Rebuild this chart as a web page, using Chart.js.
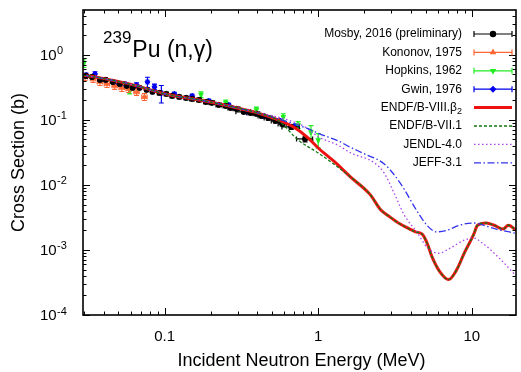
<!DOCTYPE html>
<html>
<head>
<meta charset="utf-8">
<script src="https://cdn.jsdelivr.net/npm/chart.js@4.4.0/dist/chart.umd.min.js"></script>
<style>
  html, body { margin: 0; padding: 0; background: #fff; }
</style>
</head>
<body>
<canvas id="xs" width="521" height="372"></canvas>
<script>
// neutron energy in MeV, cross section in barns
const xRange = [0.0294, 19.4];
const yRange = [1e-4, 4.9];
const xTickVals = [0.1, 1, 10];
const xTickText = ['0.1', '1', '10'];
const yTickExp = [0, -1, -2, -3, -4];

const seriesNames = ['Mosby, 2016 (preliminary)', 'Kononov, 1975', 'Hopkins, 1962', 'Gwin, 1976',
  'ENDF/B-VIII.β', 'ENDF/B-VII.1', 'JENDL-4.0', 'JEFF-3.1'];

// measurements (dE, dXS are relative half widths)
const mosbyE = [0.0308, 0.0337, 0.0379, 0.0414, 0.046, 0.051, 0.0566, 0.0619, 0.0687, 0.0762, 0.0833,
  0.0925, 0.1026, 0.112, 0.1245, 0.138, 0.151, 0.1675, 0.186, 0.203, 0.225, 0.25, 0.269, 0.294,
  0.327, 0.362, 0.396, 0.427, 0.473, 0.526, 0.583, 0.667, 0.821];
const mosbyXS = [0.475, 0.459, 0.413, 0.413, 0.384, 0.358, 0.334, 0.311, 0.311, 0.29, 0.27,
  0.26, 0.251, 0.234, 0.226, 0.218, 0.21, 0.203, 0.189, 0.183, 0.17, 0.164, 0.153, 0.148,
  0.133, 0.128, 0.124, 0.115, 0.107, 0.0966, 0.0868, 0.078, 0.051];
const mosbyDE = [0.02, 0.02, 0.02, 0.02, 0.02, 0.02, 0.02, 0.025, 0.025, 0.025, 0.025,
  0.03, 0.03, 0.03, 0.03, 0.03, 0.035, 0.035, 0.035, 0.04, 0.04, 0.04, 0.04, 0.05,
  0.11, 0.05, 0.05, 0.05, 0.06, 0.06, 0.06, 0.13, 0.12];
const mosbyDXS = [0.05, 0.05, 0.05, 0.05, 0.05, 0.05, 0.05, 0.05, 0.05, 0.05, 0.05,
  0.05, 0.05, 0.05, 0.05, 0.05, 0.05, 0.05, 0.05, 0.05, 0.05, 0.05, 0.06, 0.06,
  0.06, 0.06, 0.06, 0.06, 0.07, 0.07, 0.07, 0.08, 0.1];

const kononovE = [0.0303, 0.0342, 0.0379, 0.0421, 0.0473, 0.0526, 0.0583, 0.0656, 0.0739];
const kononovXS = [0.459, 0.428, 0.384, 0.358, 0.334, 0.311, 0.30, 0.27, 0.226];
const kononovDE = [0.04, 0.04, 0.04, 0.04, 0.04, 0.04, 0.04, 0.04, 0.04];
const kononovDXS = [0.12, 0.12, 0.12, 0.12, 0.12, 0.12, 0.12, 0.12, 0.12];

const hopkinsE = [0.0298, 0.0592, 0.1725, 0.25, 0.396, 0.592, 0.74, 0.897, 1.0];
const hopkinsXS = [0.753, 0.279, 0.245, 0.183, 0.1425, 0.111, 0.0838, 0.0654, 0.0492];
const hopkinsDE = [0.01, 0.01, 0.01, 0.01, 0.01, 0.01, 0.01, 0.01, 0.01];
const hopkinsDXS = [0.15, 0.1, 0.1, 0.1, 0.1, 0.12, 0.12, 0.25, 0.25];

const gwinE = [0.0308, 0.0352, 0.0408, 0.0473, 0.055, 0.0656, 0.0773, 0.0859, 0.0952, 0.1155,
  0.151, 0.194, 0.261, 0.342, 0.44, 0.566, 0.707];
const gwinXS = [0.492, 0.51, 0.413, 0.371, 0.358, 0.345, 0.384, 0.322, 0.26, 0.251,
  0.234, 0.196, 0.17, 0.133, 0.115, 0.0966, 0.0809];
const gwinDE = [0.02, 0.02, 0.02, 0.02, 0.02, 0.02, 0.02, 0.02, 0.02, 0.02,
  0.02, 0.02, 0.02, 0.02, 0.02, 0.02, 0.02];
const gwinDXS = [0.06, 0.08, 0.06, 0.06, 0.06, 0.08, 0.18, 0.1, 0.3, 0.06,
  0.06, 0.06, 0.06, 0.06, 0.06, 0.06, 0.06];

// evaluations
const endf8E = [0.0294, 0.038, 0.059, 0.107, 0.167, 0.262, 0.379, 0.549, 0.707, 0.858, 1.0, 1.28,
  1.62, 2.18, 2.54, 2.94, 3.42, 3.79, 4.3, 4.75, 5.1, 5.5, 6.2, 7.06, 7.95, 8.96, 10.25,
  10.9, 12.4, 14.0, 16.0, 17.3, 19.5];
const endf8XS = [0.49, 0.443, 0.358, 0.243, 0.203, 0.164, 0.133, 0.100, 0.075, 0.053, 0.037, 0.0226,
  0.0133, 0.0071, 0.0042, 0.0032, 0.0025, 0.0022, 0.0019, 0.00175, 0.0013, 0.00079, 0.00046, 0.00035,
  0.00049, 0.00091, 0.0017, 0.0024, 0.0026, 0.0024, 0.0021, 0.0024, 0.002];

const endf7E = [0.0294, 0.038, 0.059, 0.107, 0.167, 0.262, 0.379, 0.549, 0.74, 1.0, 1.34,
  1.62, 2.18, 2.54, 2.94, 3.42, 3.79, 4.3, 4.75, 5.1, 5.5, 6.2, 7.06, 7.95, 8.96, 10.25,
  10.9, 12.4, 14.0, 16.0, 17.3, 19.5];
const endf7XS = [0.49, 0.443, 0.358, 0.243, 0.203, 0.164, 0.133, 0.098, 0.049, 0.031, 0.0189,
  0.0133, 0.0071, 0.0042, 0.0032, 0.0025, 0.0022, 0.0019, 0.00175, 0.0013, 0.00079, 0.00046, 0.00035,
  0.00049, 0.00091, 0.0017, 0.0024, 0.0026, 0.0024, 0.0021, 0.0024, 0.002];

const jendlE = [0.0294, 0.038, 0.059, 0.107, 0.167, 0.262, 0.379, 0.575, 0.82, 1.0, 1.34, 1.63,
  2.32, 2.69, 3.12, 3.62, 4.39, 5.1, 6.09, 7.18, 8.96, 10.25, 11.9, 15.1, 19.4];
const jendlXS = [0.49, 0.443, 0.358, 0.243, 0.203, 0.164, 0.133, 0.107, 0.078, 0.055, 0.041, 0.031,
  0.0219, 0.0152, 0.0075, 0.0035, 0.00188, 0.00111, 0.00089, 0.00106, 0.00142, 0.00153, 0.00124,
  0.00075, 0.0004];

const jeffE = [0.0294, 0.038, 0.059, 0.107, 0.167, 0.262, 0.379, 0.575, 0.9, 1.0, 1.34, 1.62,
  2.0, 2.69, 3.42, 4.39, 5.1, 5.9, 6.85, 8.3, 10.25, 11.9, 14.4, 19.4];
const jeffXS = [0.49, 0.443, 0.358, 0.243, 0.203, 0.164, 0.133, 0.1, 0.07, 0.062, 0.048, 0.038,
  0.030, 0.021, 0.0107, 0.004, 0.0024, 0.0019, 0.002, 0.0024, 0.0026, 0.0024, 0.0021, 0.0018];

const FONT = '"Liberation Sans", Arial, Helvetica, sans-serif';

function pts(xs, ys) {
  return xs.map((x, i) => ({ x: x, y: ys[i] }));
}

function measured(label, xs, ys, dx, dy, color, style, rot) {
  return {
    label: label, data: pts(xs, ys), errX: dx, errY: dy,
    showLine: false, order: 10,
    borderColor: color, backgroundColor: color,
    pointStyle: style, pointRotation: rot || 0, pointRadius: 2.6, pointBorderWidth: 1
  };
}

function evaluated(label, xs, ys, color, width, dash, order) {
  return {
    label: label, data: pts(xs, ys), order: order,
    borderColor: color, borderWidth: width, borderDash: dash,
    pointRadius: 0, cubicInterpolationMode: 'monotone', fill: false
  };
}

// error bars drawn just before each measured series
const errorBars = {
  id: 'errorBars',
  beforeDatasetDraw(chart, args) {
    const ds = chart.data.datasets[args.index];
    if (!ds.errY) return;
    const xs = chart.scales.x, ys = chart.scales.y, a = chart.chartArea;
    const ctx = chart.ctx;
    ctx.save();
    ctx.beginPath();
    ctx.rect(a.left, a.top, a.right - a.left, a.bottom - a.top);
    ctx.clip();
    ctx.strokeStyle = ds.borderColor;
    ctx.lineWidth = 1.2;
    ds.data.forEach((p, i) => {
      const px = xs.getPixelForValue(p.x), py = ys.getPixelForValue(p.y);
      const xl = xs.getPixelForValue(p.x * (1 - ds.errX[i]));
      const xr = xs.getPixelForValue(p.x * (1 + ds.errX[i]));
      const yt = ys.getPixelForValue(p.y * (1 + ds.errY[i]));
      const yb = ys.getPixelForValue(p.y * (1 - ds.errY[i]));
      ctx.beginPath();
      ctx.moveTo(xl, py); ctx.lineTo(xr, py);
      ctx.moveTo(xl, py - 2.5); ctx.lineTo(xl, py + 2.5);
      ctx.moveTo(xr, py - 2.5); ctx.lineTo(xr, py + 2.5);
      ctx.moveTo(px, yt); ctx.lineTo(px, yb);
      ctx.moveTo(px - 2.5, yt); ctx.lineTo(px + 2.5, yt);
      ctx.moveTo(px - 2.5, yb); ctx.lineTo(px + 2.5, yb);
      ctx.stroke();
    });
    ctx.restore();
  }
};

function logTicks(lo, hi) {
  const out = [];
  for (let d = Math.floor(Math.log10(lo)); d <= Math.ceil(Math.log10(hi)); d++) {
    for (let m = 1; m < 10; m++) {
      const v = m * Math.pow(10, d);
      if (v >= lo && v <= hi) out.push({ v: v, major: m === 1 });
    }
  }
  return out;
}

// frame, inward ticks, tick labels, axis titles, label and legend
const decorations = {
  id: 'decorations',
  afterDraw(chart) {
    const ctx = chart.ctx, a = chart.chartArea;
    const xs = chart.scales.x, ys = chart.scales.y;
    ctx.save();
    ctx.strokeStyle = '#000';
    ctx.lineWidth = 1;
    logTicks(xRange[0], xRange[1]).forEach(t => {
      const px = Math.round(xs.getPixelForValue(t.v)) + 0.5;
      const len = t.major ? 7 : 3.5;
      ctx.beginPath();
      ctx.moveTo(px, a.bottom); ctx.lineTo(px, a.bottom - len);
      ctx.moveTo(px, a.top); ctx.lineTo(px, a.top + len);
      ctx.stroke();
    });
    logTicks(yRange[0], yRange[1]).forEach(t => {
      const py = Math.round(ys.getPixelForValue(t.v)) + 0.5;
      const len = t.major ? 7 : 3.5;
      ctx.beginPath();
      ctx.moveTo(a.left, py); ctx.lineTo(a.left + len, py);
      ctx.moveTo(a.right, py); ctx.lineTo(a.right - len, py);
      ctx.stroke();
    });
    ctx.lineWidth = 1.6;
    ctx.strokeRect(a.left, a.top, a.right - a.left, a.bottom - a.top);

    ctx.fillStyle = '#000';
    ctx.font = '15px ' + FONT;
    ctx.textAlign = 'center';
    ctx.textBaseline = 'middle';
    xTickVals.forEach((v, i) => {
      ctx.fillText(xTickText[i], xs.getPixelForValue(v), 337);
    });
    yTickExp.forEach(e => {
      const py = ys.getPixelForValue(Math.pow(10, e));
      ctx.font = '15px ' + FONT;
      ctx.textAlign = 'left';
      ctx.textBaseline = 'middle';
      ctx.fillText('10', 40, py + 1);
      ctx.font = '11px ' + FONT;
      ctx.textBaseline = 'alphabetic';
      ctx.fillText(e === 0 ? '0' : '-' + (-e), 57, py - 0.5);
    });

    ctx.font = '18px ' + FONT;
    ctx.textAlign = 'center';
    ctx.textBaseline = 'middle';
    ctx.fillText('Incident Neutron Energy (MeV)', (a.left + a.right) / 2 + 2, 361);
    ctx.save();
    ctx.translate(19, (a.top + a.bottom) / 2);
    ctx.rotate(-Math.PI / 2);
    ctx.fillText('Cross Section (b)', 0, 0);
    ctx.restore();

    // reaction label
    ctx.textAlign = 'left';
    ctx.textBaseline = 'alphabetic';
    ctx.font = '17px ' + FONT;
    ctx.fillText('239', 103, 43);
    const w239 = ctx.measureText('239').width;
    ctx.font = '23px ' + FONT;
    ctx.fillText('Pu (n,γ)', 103 + w239 + 1, 57);

    drawLegend(chart);
    ctx.restore();
  }
};

function drawLegend(chart) {
  const ctx = chart.ctx;
  const x0 = 474, x1 = 512, xm = 493;
  seriesNames.forEach((name, i) => {
    const ds = chart.data.datasets[i];
    const y = 34 + i * 18.4;
    ctx.save();
    ctx.fillStyle = '#000';
    ctx.font = '12px ' + FONT;
    ctx.textAlign = 'right';
    ctx.textBaseline = 'middle';
    if (i === 4) {
      ctx.font = '9px ' + FONT;
      ctx.fillText('2', 462, y + 4);
      const w = ctx.measureText('2').width;
      ctx.font = '12px ' + FONT;
      ctx.fillText(name, 462 - w, y);
    } else {
      ctx.fillText(name, 462, y);
    }
    ctx.strokeStyle = ds.borderColor;
    if (ds.errY) {
      ctx.lineWidth = 1.2;
      ctx.beginPath();
      ctx.moveTo(x0, y); ctx.lineTo(x1, y);
      ctx.moveTo(x0, y - 3); ctx.lineTo(x0, y + 3);
      ctx.moveTo(x1, y - 3); ctx.lineTo(x1, y + 3);
      ctx.stroke();
      ctx.fillStyle = ds.backgroundColor;
      Chart.helpers.drawPoint(ctx, {
        pointStyle: ds.pointStyle, rotation: ds.pointRotation,
        radius: ds.pointRadius, borderWidth: 1
      }, xm, y);
    } else {
      ctx.lineWidth = ds.borderWidth;
      ctx.setLineDash(ds.borderDash || []);
      ctx.beginPath();
      ctx.moveTo(x0, y); ctx.lineTo(x1, y);
      ctx.stroke();
    }
    ctx.restore();
  });
}

new Chart(document.getElementById('xs'), {
  type: 'line',
  data: {
    datasets: [
      measured(seriesNames[0], mosbyE, mosbyXS, mosbyDE, mosbyDXS, '#000000', 'circle'),
      measured(seriesNames[1], kononovE, kononovXS, kononovDE, kononovDXS, '#ff6633', 'triangle'),
      measured(seriesNames[2], hopkinsE, hopkinsXS, hopkinsDE, hopkinsDXS, '#22ee22', 'triangle', 180),
      measured(seriesNames[3], gwinE, gwinXS, gwinDE, gwinDXS, '#0000ee', 'rectRot'),
      evaluated(seriesNames[4], endf8E, endf8XS, '#ee1111', 3, [], 5),
      evaluated(seriesNames[5], endf7E, endf7XS, '#117711', 1.3, [3, 2], 1),
      evaluated(seriesNames[6], jendlE, jendlXS, '#aa44ee', 1.3, [1.5, 2.5], 3),
      evaluated(seriesNames[7], jeffE, jeffXS, '#3333ee', 1.3, [7, 2.5, 1.5, 2.5], 2)
    ]
  },
  options: {
    responsive: false,
    animation: false,
    devicePixelRatio: 1,
    layout: { padding: { left: 83, right: 1, top: 10, bottom: 57 } },
    plugins: { legend: { display: false }, tooltip: { enabled: false } },
    scales: {
      x: { type: 'logarithmic', min: xRange[0], max: xRange[1], display: false },
      y: { type: 'logarithmic', min: yRange[0], max: yRange[1], display: false }
    }
  },
  plugins: [errorBars, decorations]
});
</script>
</body>
</html>
